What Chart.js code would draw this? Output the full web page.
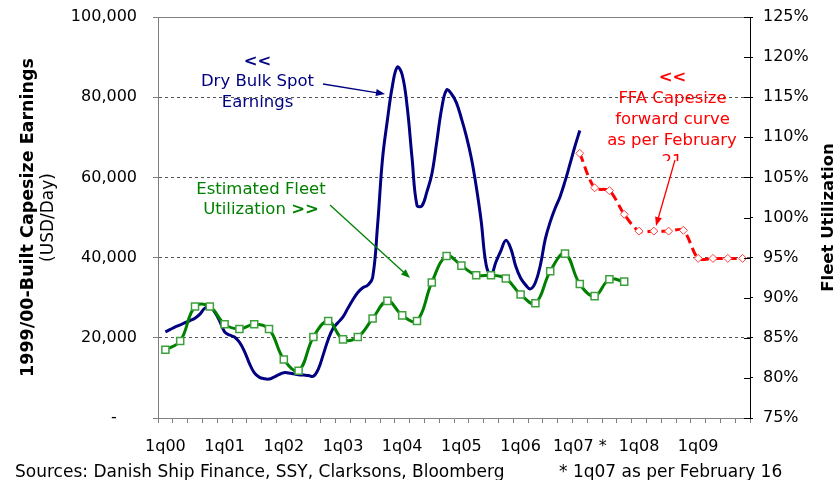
<!DOCTYPE html>
<html>
<head>
<meta charset="utf-8">
<script src="https://cdn.jsdelivr.net/npm/chart.js@4.4.1/dist/chart.umd.min.js"></script>
<style>
  body { margin: 0; background: #fff; }
  #wrap { position: relative; width: 838px; height: 480px; }
  .src { position: absolute; top: 463px; font: 17px "DejaVu Sans", Verdana, sans-serif; line-height: 16px; color: #000; white-space: nowrap; }
</style>
</head>
<body>
<div id="wrap">
  <canvas id="chart"></canvas>
  <div class="src" style="left:15px">Sources: Danish Ship Finance, SSY, Clarksons, Bloomberg</div>
  <div class="src" style="left:559px">* 1q07 as per February 16</div>
</div>
<script>
const FONT = '"DejaVu Sans", Verdana, sans-serif';

// quarterly categories, 1q00 .. 4q09
const quarters = [
  "1q00", "2q00", "3q00", "4q00", "1q01", "2q01", "3q01", "4q01",
  "1q02", "2q02", "3q02", "4q02", "1q03", "2q03", "3q03", "4q03",
  "1q04", "2q04", "3q04", "4q04", "1q05", "2q05", "3q05", "4q05",
  "1q06", "2q06", "3q06", "4q06", "1q07 *", "2q07", "3q07", "4q07",
  "1q08", "2q08", "3q08", "4q08", "1q09", "2q09", "3q09", "4q09"
];

// estimated fleet utilization (%), quarterly from 1q00
const utilization = [
  83.5, 84.6, 88.9, 88.9, 86.7, 86.1, 86.7, 86.1,
  82.3, 80.9, 85.1, 87.1, 84.8, 85.1, 87.4, 89.6,
  87.8, 87.1, 91.9, 95.2, 94.0, 92.8, 92.8, 92.4,
  90.4, 89.3, 93.3, 95.5, 91.7, 90.2, 92.3, 92.0
];

// FFA capesize forward curve (USD/day), 1q07 .. 4q09
const ffaStart = 28;
const ffaCurve = [
  66000, 57400, 56700, 50800, 46600, 46600, 46600, 46800,
  39800, 39800, 39800, 39800
];

// dry bulk spot earnings (USD/day), monthly from Feb 2000 to Feb 2007
const spotStartMonth = 1;
const spotEarnings = [
  21500, 22100, 22700, 23200, 23800, 24300, 24900, 25900, 27400, 27700,
  26400, 24200, 21500, 20700, 20200, 18900, 16700, 13700, 11300, 10200,
  9800, 9700, 10200, 10800, 11300, 11200, 11000, 10800, 10700, 10600,
  10400, 12200, 15800, 19600, 22400, 23800, 25200, 27400, 29500, 31300,
  32500, 33100, 35000, 47900, 64500, 74300, 82700, 87500, 85600, 77700,
  64800, 53000, 52900, 56400, 60800, 68800, 77200, 81800, 80800, 78600,
  74700, 70300, 64900, 57800, 49200, 38300, 35600, 38900, 41700, 44300,
  42300, 37900, 34900, 33200, 32200, 33800, 38100, 44600, 48900, 52300,
  55200, 59000, 63300, 67700, 71700
];

const ffaData = quarters.map((q, i) =>
  i >= ffaStart && i < ffaStart + ffaCurve.length ? ffaCurve[i - ffaStart] : null);
const spotData = spotEarnings.map((v, i) => ({ x: spotStartMonth + i + 0.5, y: v }));

function vtext(ctx, s, x, y, font) {
  ctx.save();
  ctx.translate(x, y);
  ctx.rotate(-Math.PI / 2);
  ctx.font = font;
  ctx.fillStyle = '#000';
  ctx.textAlign = 'center';
  ctx.textBaseline = 'middle';
  ctx.fillText(s, 0, 0);
  ctx.restore();
}

function label(ctx, s, x, y, color, bold) {
  ctx.font = (bold ? 'bold ' : '') + '16.5px ' + FONT;
  ctx.fillStyle = color;
  ctx.textAlign = 'center';
  ctx.textBaseline = 'middle';
  ctx.fillText(s, x, y);
}

function arrow(ctx, x1, y1, x2, y2, color) {
  const ang = Math.atan2(y2 - y1, x2 - x1);
  ctx.strokeStyle = color;
  ctx.fillStyle = color;
  ctx.lineWidth = 1.3;
  ctx.beginPath();
  ctx.moveTo(x1, y1);
  ctx.lineTo(x2 - 6 * Math.cos(ang), y2 - 6 * Math.sin(ang));
  ctx.stroke();
  ctx.beginPath();
  ctx.moveTo(x2, y2);
  ctx.lineTo(x2 - 9 * Math.cos(ang) + 3.5 * Math.sin(ang), y2 - 9 * Math.sin(ang) - 3.5 * Math.cos(ang));
  ctx.lineTo(x2 - 9 * Math.cos(ang) - 3.5 * Math.sin(ang), y2 - 9 * Math.sin(ang) + 3.5 * Math.cos(ang));
  ctx.closePath();
  ctx.fill();
}

const extras = {
  id: 'extras',
  afterDraw(chart) {
    const { ctx, chartArea: a, scales } = chart;
    ctx.save();
    // top frame line
    ctx.strokeStyle = '#808080';
    ctx.lineWidth = 1;
    ctx.beginPath();
    ctx.moveTo(a.left, a.top + 0.5);
    ctx.lineTo(a.right, a.top + 0.5);
    ctx.stroke();
    // inside tick marks on the right axis
    ctx.strokeStyle = '#000';
    scales.y2.ticks.forEach(t => {
      const y = Math.round(scales.y2.getPixelForValue(t.value)) + 0.5;
      ctx.beginPath();
      ctx.moveTo(a.right - 6, y);
      ctx.lineTo(a.right, y);
      ctx.stroke();
    });

    // axis titles
    const midY = (a.top + a.bottom) / 2;
    vtext(ctx, '1999/00-Built Capesize Earnings', 28, midY, 'bold 17.5px ' + FONT);
    vtext(ctx, '(USD/Day)', 49, midY, '17px ' + FONT);
    vtext(ctx, 'Fleet Utilization', 829, midY, 'bold 16.5px ' + FONT);

    // spot earnings note
    label(ctx, '<<', 257.5, 62, '#000080', true);
    label(ctx, 'Dry Bulk Spot', 257.5, 82, '#000080');
    label(ctx, 'Earnings', 257.5, 103, '#000080');
    arrow(ctx, 323, 84, 385, 94, '#000080');

    // utilization note
    label(ctx, 'Estimated Fleet', 261, 190, '#008000');
    ctx.font = '16.5px ' + FONT;
    const w1 = ctx.measureText('Utilization ').width;
    ctx.font = 'bold 16.5px ' + FONT;
    const w2 = ctx.measureText('>>').width;
    const x0 = 261 - (w1 + w2) / 2;
    ctx.textAlign = 'left';
    ctx.font = '16.5px ' + FONT;
    ctx.fillText('Utilization ', x0, 210);
    ctx.font = 'bold 16.5px ' + FONT;
    ctx.fillText('>>', x0 + w1, 210);
    arrow(ctx, 330, 205, 410, 278, '#008000');

    // FFA note
    label(ctx, '<<', 672.5, 78, '#ff0000', true);
    label(ctx, 'FFA Capesize', 672.5, 99, '#ff0000');
    label(ctx, 'forward curve', 672.5, 120, '#ff0000');
    label(ctx, 'as per February', 672, 141, '#ff0000');
    ctx.save();
    ctx.beginPath();
    ctx.rect(600, 150, 150, 11);
    ctx.clip();
    label(ctx, '21', 672, 162, '#ff0000');
    ctx.restore();
    arrow(ctx, 675, 160, 656, 226, '#ff0000');
    ctx.restore();
  }
};

// drop the label padding Chart.js adds above/below vertical axes
const noVPad = s => { s.paddingTop = 0; s.paddingBottom = 0; };

new Chart(document.getElementById('chart'), {
  type: 'line',
  data: {
    labels: quarters,
    datasets: [
      {
        label: 'Estimated Fleet Utilization',
        data: utilization,
        xAxisID: 'x',
        yAxisID: 'y2',
        borderColor: '#008000',
        borderWidth: 3,
        tension: 0.4,
        pointStyle: 'rect',
        pointRadius: 5,
        pointBorderWidth: 1.5,
        pointBorderColor: '#3ca03c',
        pointBackgroundColor: '#ffffff',
        order: 0
      },
      {
        label: 'Dry Bulk Spot Earnings',
        data: spotData,
        xAxisID: 'xm',
        yAxisID: 'y',
        borderColor: '#000080',
        borderWidth: 3,
        tension: 0.4,
        pointRadius: 0,
        order: 1
      },
      {
        label: 'FFA Capesize forward curve',
        data: ffaData,
        xAxisID: 'x',
        yAxisID: 'y',
        borderColor: '#ff0000',
        borderWidth: 3,
        borderDash: [9, 5],
        tension: 0.3,
        pointStyle: 'rectRot',
        pointRadius: 4,
        pointBorderWidth: 1,
        pointBorderColor: '#ff4040',
        pointBackgroundColor: '#ffffff',
        order: 2
      }
    ]
  },
  options: {
    responsive: true,
    maintainAspectRatio: false,
    animation: false,
    layout: { padding: { top: 17, left: 0, right: 0, bottom: 0 } },
    plugins: { legend: { display: false }, tooltip: { enabled: false } },
    scales: {
      x: {
        type: 'category',
        offset: true,
        grid: { offset: true, drawOnChartArea: false, tickLength: 5, color: '#808080' },
        border: { color: '#808080' },
        ticks: {
          autoSkip: false,
          maxRotation: 0,
          padding: 14,
          color: '#000',
          font: { family: FONT, size: 16 },
          callback: (v, i) => quarters[i].startsWith('1q') ? quarters[i] : ''
        },
        afterFit: s => { s.height = 62; }
      },
      xm: { type: 'linear', display: false, min: 0, max: 120 },
      y: {
        position: 'left',
        min: 0,
        max: 100000,
        ticks: {
          stepSize: 20000,
          padding: 16,
          color: '#000',
          font: { family: FONT, size: 16 },
          callback: v => v === 0 ? '-    ' : v.toLocaleString('en-US')
        },
        grid: {
          color: c => (c.tick && (c.tick.value === 0 || c.tick.value === 100000)) ? 'rgba(0,0,0,0)' : '#555',
          tickColor: '#808080',
          tickLength: 5
        },
        border: { color: '#808080', dash: [3, 3] },
        afterFit: s => { s.width = 158; noVPad(s); }
      },
      y2: {
        position: 'right',
        min: 75,
        max: 125,
        ticks: {
          stepSize: 5,
          padding: 10,
          color: '#000',
          font: { family: FONT, size: 16 },
          callback: v => v + '%'
        },
        grid: { drawOnChartArea: false, tickLength: 3, color: '#000' },
        border: { color: '#000' },
        afterFit: s => { s.width = 88; noVPad(s); }
      }
    }
  },
  plugins: [extras]
});
</script>
</body>
</html>
